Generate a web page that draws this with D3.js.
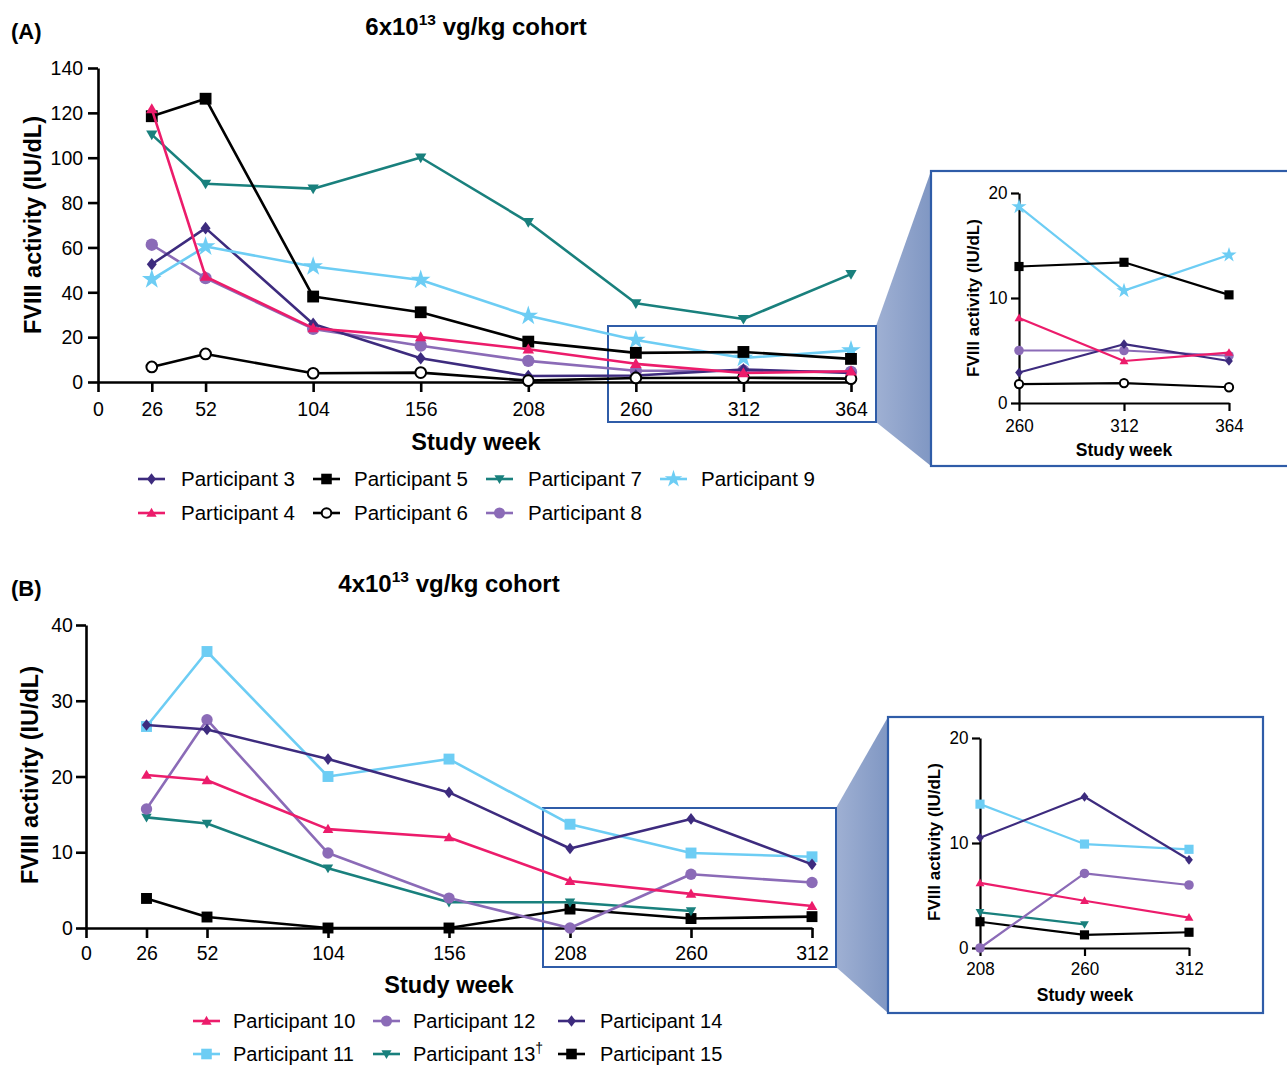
<!DOCTYPE html>
<html>
<head>
<meta charset="utf-8">
<script src="https://cdn.jsdelivr.net/npm/d3@7"></script>
<style>
  body { margin: 0; background: #fff; }
  svg { display: block; font-family: 'Liberation Sans', Arial, sans-serif; }
</style>
</head>
<body>
<div id="chart"></div>
<script>
// (A) 6x10^13 vg/kg cohort
const weeksA = [26, 52, 104, 156, 208, 260, 312, 364];
const p3 = [52.5, 68.6, 25.9, 10.6, 2.7, 2.9, 5.6, 4.0];
const p4 = [121.7, 47.0, 24.0, 20.0, 14.6, 8.1, 4.0, 4.8];
const p5 = [118.5, 126.3, 38.1, 31.1, 18.0, 13.0, 13.4, 10.3];
const p6 = [6.7, 12.5, 3.9, 4.2, 0.6, 1.8, 1.9, 1.5];
const p7 = [110.3, 88.4, 86.2, 100.1, 71.3, 35.1, 28.1, 48.1];
const p8 = [61.2, 46.3, 23.7, 16.2, 9.4, 5.0, 5.0, 4.5];
const p9 = [45.8, 60.4, 51.5, 45.5, 29.5, 18.7, 10.7, 14.1];
const yTicksA = [0, 20, 40, 60, 80, 100, 120, 140];
const insetWeeksA = [260, 312, 364];

// (B) 4x10^13 vg/kg cohort
const weeksB = [26, 52, 104, 156, 208, 260, 312];
const p10 = [20.2, 19.5, 13.05, 11.95, 6.2, 4.5, 2.9];
const p11 = [26.6, 36.5, 20.0, 22.3, 13.7, 9.9, 9.4];
const p12 = [15.7, 27.5, 9.9, 3.95, 0, 7.1, 6.0];
const p13 = [14.6, 13.8, 7.9, 3.4, 3.4, 2.25, null];
const p14 = [26.8, 26.2, 22.3, 17.9, 10.5, 14.4, 8.4];
const p15 = [3.9, 1.45, 0, 0, 2.5, 1.25, 1.5];
const yTicksB = [0, 10, 20, 30, 40];
const insetWeeksB = [208, 260, 312];
const insetYTicks = [0, 10, 20];

const C = { dark: '#3d2b7e', pink: '#ec1c6b', teal: '#19807d', sky: '#6dcdf4', lav: '#8b6bb7', black: '#000' };

const seriesA = [
  { name: 'Participant 8', vals: p8, color: C.lav, shape: 'circle' },
  { name: 'Participant 3', vals: p3, color: C.dark, shape: 'diamond' },
  { name: 'Participant 9', vals: p9, color: C.sky, shape: 'star' },
  { name: 'Participant 7', vals: p7, color: C.teal, shape: 'down' },
  { name: 'Participant 6', vals: p6, color: C.black, shape: 'open' },
  { name: 'Participant 5', vals: p5, color: C.black, shape: 'square' },
  { name: 'Participant 4', vals: p4, color: C.pink, shape: 'up' }
];
const seriesB = [
  { name: 'Participant 15', vals: p15, color: C.black, shape: 'square' },
  { name: 'Participant 13', vals: p13, color: C.teal, shape: 'down' },
  { name: 'Participant 12', vals: p12, color: C.lav, shape: 'circle' },
  { name: 'Participant 10', vals: p10, color: C.pink, shape: 'up' },
  { name: 'Participant 11', vals: p11, color: C.sky, shape: 'square' },
  { name: 'Participant 14', vals: p14, color: C.dark, shape: 'diamond' }
];

// custom symbols
const diamond = { draw(ctx, s) { const r = Math.sqrt(s) / 2; ctx.moveTo(0, -r * 1.2); ctx.lineTo(r * 0.95, 0); ctx.lineTo(0, r * 1.2); ctx.lineTo(-r * 0.95, 0); ctx.closePath(); } };
const triUp = { draw(ctx, s) { const r = Math.sqrt(s) / 2; ctx.moveTo(0, -r * 1.1); ctx.lineTo(r * 1.1, r * 0.8); ctx.lineTo(-r * 1.1, r * 0.8); ctx.closePath(); } };
const triDown = { draw(ctx, s) { const r = Math.sqrt(s) / 2; ctx.moveTo(-r * 1.1, -r * 0.8); ctx.lineTo(r * 1.1, -r * 0.8); ctx.lineTo(0, r * 1.1); ctx.closePath(); } };
const SHAPES = {
  diamond: [diamond, 110], up: [triUp, 110], down: [triDown, 105], square: [d3.symbolSquare, 140],
  circle: [d3.symbolCircle, 120], open: [d3.symbolCircle, 90], star: [d3.symbolStar, 120]
};

function marker(g, shape, color, cx, cy, k) {
  const [type, size] = SHAPES[shape];
  g.append('path')
    .attr('d', d3.symbol(type, size * k)())
    .attr('transform', `translate(${cx},${cy})`)
    .attr('fill', shape === 'open' ? '#fff' : color)
    .attr('stroke', shape === 'open' ? color : 'none')
    .attr('stroke-width', 2);
}

const W = 1287, H = 1065;
const svg = d3.select('#chart').append('svg').attr('width', W).attr('height', H);
svg.append('rect').attr('width', W).attr('height', H).attr('fill', '#fff');

const defs = svg.append('defs');
const grad = defs.append('linearGradient').attr('id', 'zoomFill');
grad.append('stop').attr('offset', '0%').attr('stop-color', '#9fb0d3');
grad.append('stop').attr('offset', '100%').attr('stop-color', '#8097c3');

function plot(o) {
  const g = svg.append('g');
  const x = d3.scaleLinear().domain(o.xDomain).range(o.xRange);
  const y = d3.scaleLinear().domain(o.yDomain).range(o.yRange);

  const ax = g.append('g').attr('transform', `translate(0,${o.yRange[0]})`)
    .call(d3.axisBottom(x).tickValues(o.xTicks).tickSize(o.tick).tickPadding(o.xPad).tickSizeOuter(0));
  const ay = g.append('g').attr('transform', `translate(${o.xRange[0]},0)`)
    .call(d3.axisLeft(y).tickValues(o.yTicks).tickSize(o.tick).tickPadding(o.yPad).tickSizeOuter(0));
  [ax, ay].forEach(a => {
    a.attr('font-family', null).attr('font-size', o.font);
    a.select('.domain').attr('stroke', '#000').attr('stroke-width', o.axisW);
    a.selectAll('.tick line').attr('stroke', '#000').attr('stroke-width', o.axisW);
    a.selectAll('.tick text').attr('fill', '#000').attr('transform', `scale(${o.sx},1)`);
  });

  const line = d3.line()
    .defined(d => d[1] != null)
    .x(d => x(d[0]))
    .y(d => y(d[1]));

  o.series.forEach(s => {
    // keep only points inside this plot's window (insets drop off-scale series)
    const pts = o.weeks.map((w, i) => [w, s.vals[i]])
      .filter(d => d[0] >= o.xDomain[0] && d[1] != null && d[1] <= o.yDomain[1]);
    if (!pts.length) return;
    g.append('path').attr('d', line(pts))
      .attr('fill', 'none').attr('stroke', s.color).attr('stroke-width', o.lineW)
      .attr('stroke-linejoin', 'round');
    pts.forEach(d => marker(g, s.shape, s.color, x(d[0]), y(d[1]), o.k));
  });

  // axis titles
  g.append('text').attr('x', o.xLabel[0]).attr('y', o.xLabel[1])
    .attr('text-anchor', 'middle').attr('font-weight', 'bold').attr('font-size', o.labelFont)
    .text('Study week');
  g.append('text')
    .attr('transform', `translate(${o.yLabel[0]},${o.yLabel[1]}) rotate(-90)`)
    .attr('dy', '0.35em')
    .attr('text-anchor', 'middle').attr('font-weight', 'bold').attr('font-size', o.yLabelFont || o.labelFont)
    .text('FVIII activity (IU/dL)');
}

function zoomLink(box, inset) {
  // shaded connector from highlight box to inset frame
  svg.append('polygon')
    .attr('points', [[box.x1, box.y0], [inset.x0, inset.y0], [inset.x0, inset.y1], [box.x1, box.y1]].join(' '))
    .attr('fill', 'url(#zoomFill)');
  svg.append('rect').attr('x', box.x0).attr('y', box.y0)
    .attr('width', box.x1 - box.x0).attr('height', box.y1 - box.y0)
    .attr('fill', 'none').attr('stroke', '#2f5ca8').attr('stroke-width', 2);
  svg.append('rect').attr('x', inset.x0).attr('y', inset.y0)
    .attr('width', inset.x1 - inset.x0).attr('height', inset.y1 - inset.y0)
    .attr('fill', '#fff').attr('stroke', '#2f5ca8').attr('stroke-width', 2.2);
}

function title(txt, sup, rest, cx, y, tag, ty) {
  svg.append('text').attr('x', 11).attr('y', ty).attr('font-weight', 'bold').attr('font-size', 22).text(tag);
  const t = svg.append('text').attr('x', cx).attr('y', y).attr('text-anchor', 'middle')
    .attr('font-weight', 'bold').attr('font-size', 24);
  t.append('tspan').text(txt);
  t.append('tspan').attr('dy', -10).attr('font-size', 15.5).text(sup);
  t.append('tspan').attr('dy', 10).text(rest);
}

function legend(items, cols, rows, font) {
  items.forEach((it, i) => {
    const c = cols[i % cols.length], r = rows[Math.floor(i / cols.length)];
    const g = svg.append('g');
    g.append('line').attr('x1', c[0]).attr('x2', c[0] + 27).attr('y1', r).attr('y2', r)
      .attr('stroke', it.color).attr('stroke-width', 2.6);
    marker(g, it.shape, it.color, c[0] + 13.5, r, 0.8);
    const t = g.append('text').attr('x', c[1]).attr('y', r).attr('dy', '0.36em').attr('font-size', font).text(it.name);
    if (it.dagger) t.append('tspan').attr('dy', -8).attr('font-size', 14).text('†');
  });
}

const byName = (arr, n) => arr.find(s => s.name === n);

// ---------- Panel A ----------
title('6x10', '13', ' vg/kg cohort', 476, 35, '(A)', 39);
zoomLink({ x0: 608, x1: 876, y0: 326, y1: 422 }, { x0: 931, x1: 1292, y0: 171, y1: 466 });
plot({
  series: seriesA, weeks: weeksA, xDomain: [0, 364], xRange: [98, 851], yDomain: [0, 140], yRange: [382, 68],
  xTicks: [0, ...weeksA], yTicks: yTicksA, tick: 10, xPad: 9, yPad: 6, font: 21, sx: 0.93, axisW: 2.6,
  lineW: 2.6, k: 1, xLabel: [476, 450], yLabel: [33, 225], labelFont: 23.5
});
plot({
  series: seriesA, weeks: weeksA, xDomain: [260, 364], xRange: [1019, 1229], yDomain: [0, 20], yRange: [403, 193],
  xTicks: insetWeeksA, yTicks: insetYTicks, tick: 8, xPad: 8, yPad: 4, font: 18, sx: 0.95, axisW: 2.2,
  lineW: 2.2, k: 0.6, xLabel: [1124, 456], yLabel: [973, 298], labelFont: 17.5, yLabelFont: 17
});
legend(['Participant 3', 'Participant 5', 'Participant 7', 'Participant 9', 'Participant 4', 'Participant 6', 'Participant 8']
  .map(n => byName(seriesA, n)),
  [[138, 181], [313, 354], [486, 528], [660, 701]], [479, 513], 20.5);

// ---------- Panel B ----------
title('4x10', '13', ' vg/kg cohort', 449, 592, '(B)', 596);
zoomLink({ x0: 543, x1: 836, y0: 808, y1: 967 }, { x0: 888, x1: 1263, y0: 717, y1: 1013 });
plot({
  series: seriesB, weeks: weeksB, xDomain: [0, 312], xRange: [86, 812], yDomain: [0, 40], yRange: [928, 625],
  xTicks: [0, ...weeksB], yTicks: yTicksB, tick: 10, xPad: 7, yPad: 4, font: 21, sx: 0.93, axisW: 2.6,
  lineW: 2.6, k: 0.85, xLabel: [449, 993], yLabel: [30, 775], labelFont: 23.5
});
plot({
  series: seriesB, weeks: weeksB, xDomain: [208, 312], xRange: [980, 1189], yDomain: [0, 20], yRange: [948, 738],
  xTicks: insetWeeksB, yTicks: insetYTicks, tick: 8, xPad: 6, yPad: 4, font: 18, sx: 0.95, axisW: 2.2,
  lineW: 2.2, k: 0.6, xLabel: [1085, 1001], yLabel: [934, 842], labelFont: 17.5, yLabelFont: 17
});
const legB = ['Participant 10', 'Participant 12', 'Participant 14', 'Participant 11', 'Participant 13', 'Participant 15']
  .map(n => Object.assign({}, byName(seriesB, n), { dagger: n === 'Participant 13' }));
legend(legB, [[193, 233], [373, 413], [558, 600]], [1021, 1054], 20);
</script>
</body>
</html>
